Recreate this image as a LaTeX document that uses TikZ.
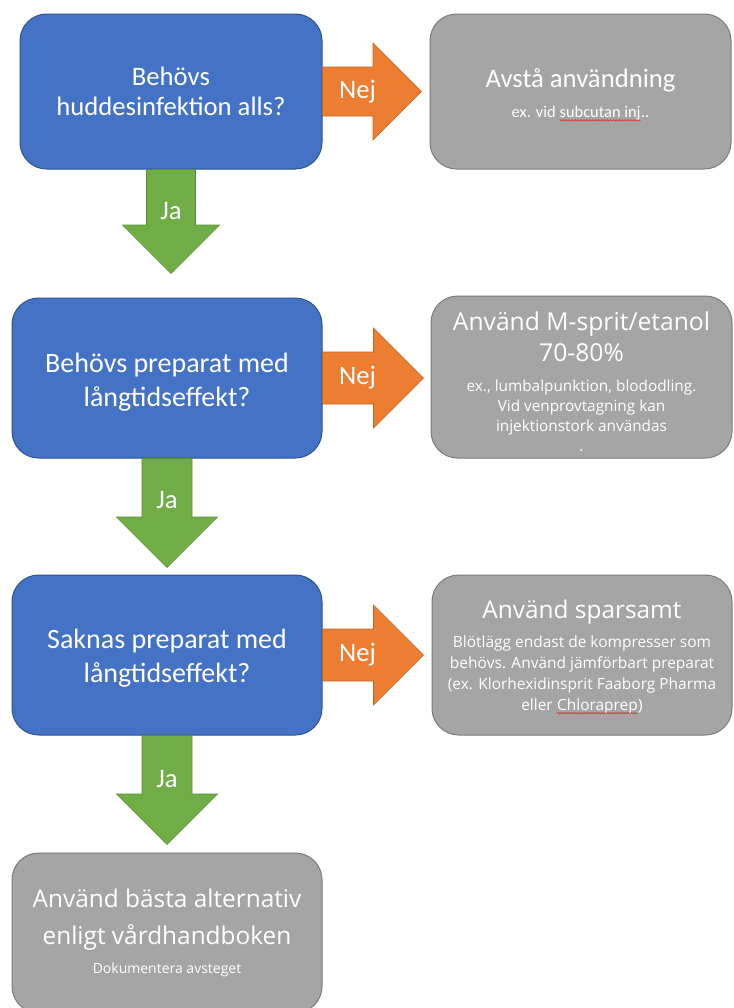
\documentclass[tikz,border=0pt]{standalone}
\usepackage{fontspec}
\setmainfont{Carlito}
\newfontfamily\osans{Open Sans}
\usetikzlibrary{calc,decorations.pathmorphing}

\definecolor{fragebla}{HTML}{4472C4}
\definecolor{frageram}{HTML}{2F528F}
\definecolor{infogra}{HTML}{A5A5A5}
\definecolor{inforam}{HTML}{7B7B7B}
\definecolor{nejorange}{HTML}{ED7D31}
\definecolor{nejram}{HTML}{C0652A}
\definecolor{jagron}{HTML}{70AD47}
\definecolor{jaram}{HTML}{5A8F38}
\definecolor{stavrod}{HTML}{E03030}

% 1 px of the sketch
\newdimen\pxl \pxl=0.75pt
% fixed line distance inside the boxes
\newcommand{\tatt}{\lineskiplimit=-20pt\relax}
% red wavy underline
\newcommand{\stavfel}[1]{\tikz[baseline=(ord.base), x=1pt, y=1pt]{%
  \node[inner sep=0pt, outer sep=0pt, draw=none, fill=none,
    minimum width=0pt, minimum height=0pt, sharp corners,
    font=, align=left, text=white] (ord) {#1};
  \draw[stavrod, line width=0.5pt, fill=none, sharp corners, decorate,
    decoration={snake, amplitude=0.5pt, segment length=2.2pt}]
    ($(ord.base west)+(0pt,-2pt)$) -- ($(ord.base east)+(0pt,-2pt)$);}}

\tikzset{
  fraga/.style={draw=frageram, fill=fragebla, line width=0.75pt,
    rounded corners=20pt, text=white, align=center,
    minimum width=310*\pxl, minimum height=160*\pxl},
  info/.style={draw=inforam, fill=infogra, line width=0.75pt,
    rounded corners=20pt, text=white, align=center,
    minimum width=301*\pxl, minimum height=160*\pxl},
  nejfyll/.style={fill=nejorange, draw=nejram, line width=0.4pt},
  jafyll/.style={fill=jagron, draw=jaram, line width=0.4pt},
  svar/.style={text=white, inner sep=0pt, font=\fontsize{20}{24}\selectfont}
}

% block arrow to the right: box, tip, half shaft, half head
\newcommand{\nejpil}[4]{%
  \draw[nejfyll] ($(#1.east)+(0,-#3)$) -| ($(#2)+(-#4,-#4)$) -- (#2)
    -- ($(#2)+(-#4,#4)$) |- ($(#1.east)+(0,#3)$) -- cycle;}
% block arrow downwards: box, tip, half shaft, half head
\newcommand{\japil}[4]{%
  \draw[jafyll] ($(#1.south)+(-#3,0)$) |- ($(#2)+(-#4,-#4)$) -- (#2)
    -- ($(#2)+(#4,-#4)$) -| ($(#1.south)+(#3,0)$) -- cycle;}

\begin{document}
\begin{tikzpicture}[x=1\pxl, y=-1\pxl]
\useasboundingbox (0,0) rectangle (733,1008);

% questions
\node[fraga, minimum width=302*\pxl, minimum height=155*\pxl,
  font=\fontsize{20}{22.5}\selectfont] (b1) at (171,91.5)
  {Behövs\\huddesinfektion alls?};
\node[fraga, font=\fontsize{21}{26}\selectfont] (b2) at (167,378)
  {\rule{0pt}{20.7pt}Behövs preparat med\\långtidseffekt?};
\node[fraga, font=\fontsize{21}{26}\selectfont] (b3) at (167,655)
  {\rule{0pt}{19.2pt}Saknas preparat med\\långtidseffekt?};

% answers
\node[info, minimum height=155*\pxl,
  font=\fontsize{12.3}{15}\selectfont\tatt] (g1) at (580.5,91.5)
  {\rule{0pt}{19.5pt}{\fontsize{20}{24}\selectfont Avstå användning}\\[7.5pt]
   ex. vid \stavfel{subcutan inj}..};
\node[info, minimum height=162*\pxl,
  font=\osans\fontsize{11.5}{15}\selectfont\tatt] (g2) at (581.5,377)
  {\rule{0pt}{21.5pt}{\fontsize{18.5}{20}\selectfont Använd M-sprit/etanol}\\[8pt]
   {\fontsize{18.5}{20}\selectfont 70-80\%}\\[8pt]
   ex., lumbalpunktion, blododling.\\
   Vid venprovtagning kan\\
   injektionstork användas\\
   .};
\node[info, minimum width=300*\pxl,
  font=\osans\fontsize{11.6}{15.75}\selectfont\tatt] (g3) at (582,655)
  {\rule{0pt}{17pt}{\fontsize{18.3}{22}\selectfont Använd sparsamt}\\[6pt]
   Blötlägg endast de kompresser som\\
   behövs. Använd jämförbart preparat\\
   (ex. Klorhexidinsprit Faaborg Pharma\\
   eller \stavfel{Chloraprep})};
\node[info, minimum width=310*\pxl,
  font=\osans\fontsize{10.5}{15}\selectfont\tatt] (g4) at (167,933)
  {{\fontsize{18.3}{22}\selectfont Använd bästa alternativ}\\[12.75pt]
   {\fontsize{18.3}{22}\selectfont enligt vårdhandboken}\\[6.5pt]
   Dokumentera avsteget};

% Nej arrows
\coordinate (n1) at ($(g1.west)+(-8,0)$);
\coordinate (n2) at ($(g2.west |- b2.east)+(-7,0)$);
\coordinate (n3) at ($(g3.west)+(-8,0)$);
\nejpil{b1}{n1}{24.5}{48.5}
\nejpil{b2}{n2}{26}{50}
\nejpil{b3}{n3}{26}{50}
\node[svar] (nej1) at ($(b1.east)+(35,0)$) {Nej};
\node[svar] (nej2) at ($(b2.east)+(35,0)$) {Nej};
\node[svar] (nej3) at ($(b3.east)+(35,0)$) {Nej};

% Ja arrows
\coordinate (j1) at ($(b1.south |- b2.north)+(0,-24)$);
\coordinate (j2) at ($(b3.north)+(0,-7)$);
\coordinate (j3) at ($(g4.north)+(0,-8)$);
\japil{b1}{j1}{24.5}{48.5}
\japil{b2}{j2}{25}{50.5}
\japil{b3}{j3}{25}{50.5}
\node[svar] (ja1) at ($(b1.south)+(0,42)$) {Ja};
\node[svar] (ja2) at ($(b2.south)+(0,42)$) {Ja};
\node[svar] (ja3) at ($(b3.south)+(0,44)$) {Ja};
\end{tikzpicture}
\end{document}
